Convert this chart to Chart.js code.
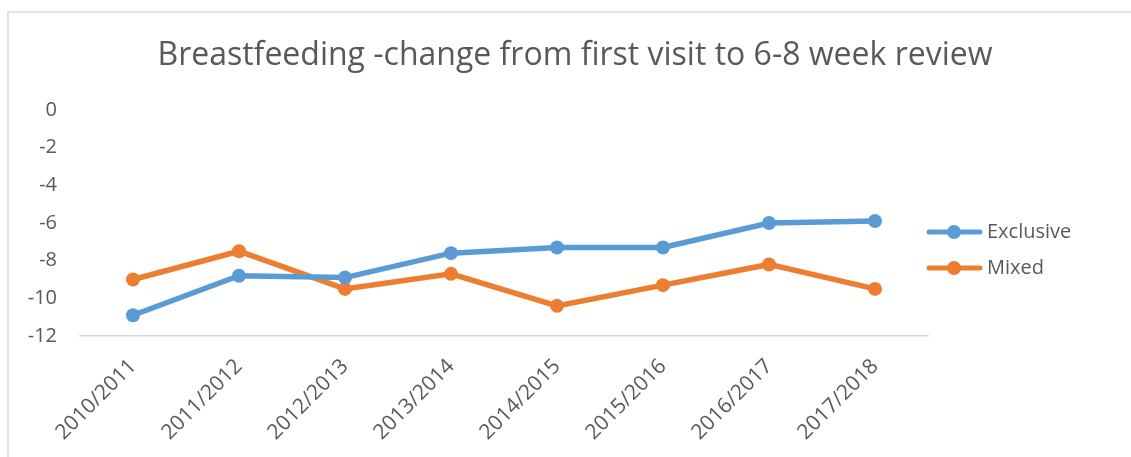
<!DOCTYPE html>
<html>
<head>
<meta charset="utf-8">
<script src="https://cdn.jsdelivr.net/npm/chart.js@4"></script>
<style>
  html, body { margin: 0; padding: 0; background: #fff; }
  #wrap { width: 1131px; height: 457px; }
</style>
</head>
<body>
<div id="wrap"><canvas id="bfChart" width="1131" height="457"></canvas></div>
<script>
const years = ['2010/2011', '2011/2012', '2012/2013', '2013/2014', '2014/2015', '2015/2016', '2016/2017', '2017/2018'];
const exclusive = [-10.9, -8.8, -8.9, -7.6, -7.3, -7.3, -6.0, -5.9];
const mixed = [-9.0, -7.5, -9.5, -8.7, -10.4, -9.3, -8.2, -9.5];
const yTicks = [0, -2, -4, -6, -8, -10, -12];
const chartTitle = 'Breastfeeding -change from first visit to 6-8 week review';

const FONT = "'Open Sans', sans-serif";
const TEXT = '#595959';
const BLUE = '#5b9bd5';
const ORANGE = '#ed7d31';

// frame, title and legend drawn the way the office chart places them
const chartFrame = {
  id: 'chartFrame',
  beforeDraw(chart) {
    const ctx = chart.ctx;
    ctx.save();
    ctx.strokeStyle = '#d9d9d9';
    ctx.lineWidth = 1.5;
    ctx.beginPath();
    ctx.moveTo(8, 457);
    ctx.lineTo(8, 12);
    ctx.lineTo(1131, 12);
    ctx.stroke();

    ctx.fillStyle = TEXT;
    ctx.font = '32px ' + FONT;
    ctx.textAlign = 'center';
    ctx.textBaseline = 'middle';
    ctx.fillText(chartTitle, 575, 56);
    ctx.restore();
  },
  afterDraw(chart) {
    const ctx = chart.ctx;
    ctx.save();
    chart.data.datasets.forEach((ds, i) => {
      const y = 232 + i * 36;
      ctx.strokeStyle = ds.borderColor;
      ctx.lineWidth = 5;
      ctx.lineCap = 'round';
      ctx.beginPath();
      ctx.moveTo(929, y);
      ctx.lineTo(980, y);
      ctx.stroke();
      ctx.fillStyle = ds.borderColor;
      ctx.beginPath();
      ctx.arc(954, y, 7, 0, Math.PI * 2);
      ctx.fill();
      ctx.fillStyle = TEXT;
      ctx.font = '20px ' + FONT;
      ctx.textBaseline = 'middle';
      ctx.fillText(ds.label, 987, y);
    });
    ctx.restore();
  }
};

new Chart(document.getElementById('bfChart').getContext('2d'), {
  type: 'line',
  data: {
    labels: years,
    datasets: [{
      label: 'Exclusive',
      data: exclusive,
      borderColor: BLUE,
      backgroundColor: BLUE,
      borderWidth: 5.5,
      pointRadius: 7,
      pointBorderWidth: 0,
      tension: 0
    }, {
      label: 'Mixed',
      data: mixed,
      borderColor: ORANGE,
      backgroundColor: ORANGE,
      borderWidth: 5.5,
      pointRadius: 7,
      pointBorderWidth: 0,
      tension: 0
    }]
  },
  options: {
    responsive: false,
    animation: false,
    layout: { padding: { left: 0, right: 203, top: 110, bottom: 0 } },
    plugins: {
      legend: { display: false },
      tooltip: { enabled: false },
      title: { display: false }
    },
    scales: {
      x: {
        offset: true,
        grid: { display: false, drawTicks: false },
        border: { display: true, color: '#d9d9d9', width: 1.5 },
        ticks: {
          color: TEXT,
          font: { family: FONT, size: 21 },
          maxRotation: 45,
          minRotation: 45,
          padding: 18
        },
        afterFit: s => { s.height = 121; }
      },
      y: {
        min: -12,
        max: 0,
        grid: { display: false, drawTicks: false },
        border: { display: false },
        afterBuildTicks: s => { s.ticks = yTicks.map(v => ({ value: v })); },
        ticks: {
          color: TEXT,
          font: { family: FONT, size: 20 },
          padding: 23
        },
        afterFit: s => { s.width = 80; }
      }
    }
  },
  plugins: [chartFrame]
});
</script>
</body>
</html>
